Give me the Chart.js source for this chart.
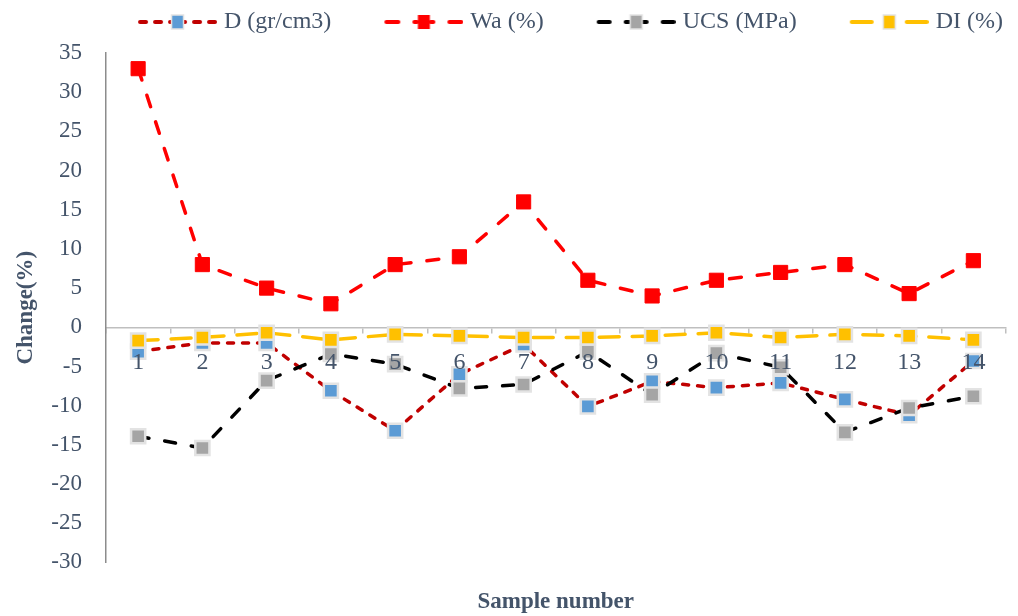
<!DOCTYPE html>
<html>
<head>
<meta charset="utf-8">
<script src="https://cdn.jsdelivr.net/npm/chart.js"></script>
<style>
  html, body { margin: 0; padding: 0; background: #ffffff; }
  #wrap { width: 1018px; height: 616px; }
</style>
</head>
<body>
<div id="wrap"><canvas id="chart" width="1018" height="616"></canvas></div>
<script>
// Sample numbers along the x axis
const samples = ['1', '2', '3', '4', '5', '6', '7', '8', '9', '10', '11', '12', '13', '14'];

// Percentage change of each property per sample
const densityChange = [-3.1, -2.0, -2.0, -8.1, -13.2, -6.0, -2.2, -10.1, -6.9, -7.7, -7.1, -9.2, -11.2, -4.3];
const absorptionChange = [33, 8, 5, 3, 8, 9, 16, 6, 4, 6, 7, 8, 4.3, 8.5];
const ucsChange = [-13.9, -15.4, -6.8, -3.4, -4.7, -7.8, -7.3, -3.1, -8.6, -3.3, -5.1, -13.4, -10.3, -8.8];
const durabilityChange = [-1.7, -1.3, -0.7, -1.6, -0.9, -1.1, -1.3, -1.3, -1.1, -0.7, -1.3, -0.9, -1.1, -1.6];

// Series names
const seriesNames = ['D (gr/cm3)', 'Wa (%)', 'UCS (MPa)', 'DI (%)'];

// Y axis range and step
const yMin = -30;
const yMax = 35;
const yStep = 5;

const TEXT = '#44546A';
const SERIF = "'Liberation Serif', 'Times New Roman', serif";
Chart.defaults.font.family = SERIF;
Chart.defaults.color = TEXT;

// Line + marker swatch used as the legend symbol
const SWATCH_BOX = 117;
function legendSwatch(lineColor, dash, fill, edge) {
  const c = document.createElement('canvas');
  c.width = SWATCH_BOX + 10;
  c.height = 24;
  const g = c.getContext('2d');
  const left = c.width - 77, right = c.width - 2, mid = (left + right) / 2, cy = 12;
  g.strokeStyle = lineColor;
  g.lineWidth = 4;
  g.lineCap = 'round';
  g.setLineDash(dash);
  g.beginPath(); g.moveTo(left, cy); g.lineTo(mid - 7, cy); g.stroke();
  g.beginPath(); g.moveTo(right, cy); g.lineTo(mid + 7, cy); g.stroke();
  g.setLineDash([]);
  g.fillStyle = fill;
  g.fillRect(mid - 6, cy - 7, 12, 14);
  if (edge) { g.strokeStyle = edge; g.lineWidth = 1.5; g.strokeRect(mid - 6, cy - 7, 12, 14); }
  return c;
}

const styles = [
  { line: '#C00000', dash: [6, 9], fill: '#5B9BD5', edge: '#E3E3E3', order: 4 },
  { line: '#FF0000', dash: [12, 16], fill: '#FF0000', edge: '#FF0000', order: 3 },
  { line: '#000000', dash: [11, 16], fill: '#A5A5A5', edge: '#E3E3E3', order: 2 },
  { line: '#FFC000', dash: [20, 13], fill: '#FFC000', edge: '#E3E3E3', order: 1 }
];
const seriesValues = [densityChange, absorptionChange, ucsChange, durabilityChange];

const swatches = styles.map(s => legendSwatch(s.line, s.dash, s.fill, s.edge === '#FF0000' ? null : s.edge));

const datasets = seriesNames.map((name, i) => ({
  label: name,
  data: seriesValues[i],
  borderColor: styles[i].line,
  borderWidth: 3.5,
  borderDash: styles[i].dash,
  borderCapStyle: 'round',
  backgroundColor: styles[i].fill,
  pointStyle: 'rect',
  pointRadius: 10,
  pointHoverRadius: 10,
  pointBackgroundColor: styles[i].fill,
  pointBorderColor: styles[i].edge,
  pointBorderWidth: i === 1 ? 1 : 2.5,
  tension: 0,
  fill: false,
  clip: false,
  order: styles[i].order
}));

new Chart(document.getElementById('chart'), {
  type: 'line',
  data: { labels: samples, datasets },
  options: {
    responsive: false,
    animation: false,
    devicePixelRatio: 1,
    layout: { padding: { top: 0, right: 5, bottom: 0, left: 0 } },
    plugins: {
      tooltip: { enabled: false },
      legend: {
        position: 'top',
        align: 'end',
        weight: 1000,
        labels: {
          usePointStyle: true,
          pointStyleWidth: SWATCH_BOX,
          padding: 10,
          color: TEXT,
          font: { size: 24, family: SERIF },
          generateLabels(chart) {
            const items = Chart.defaults.plugins.legend.labels.generateLabels(chart);
            items.sort((a, b) => a.datasetIndex - b.datasetIndex);
            items.forEach(it => { it.pointStyle = swatches[it.datasetIndex]; it.fontColor = TEXT; });
            return items;
          }
        }
      },
      subtitle: {
        display: true,
        text: '',
        position: 'top',
        weight: 500,
        font: { size: 0 },
        padding: { top: 9, bottom: 0 }
      },
      title: {
        display: true,
        text: 'Sample number',
        position: 'bottom',
        fullSize: false,
        color: TEXT,
        font: { size: 23, weight: 'bold', family: SERIF },
        padding: { top: 26, bottom: 0 }
      }
    },
    scales: {
      x: {
        type: 'category',
        position: { y: 0 },
        offset: true,
        afterFit(scale) { scale.height = 0; },
        grid: {
          display: true,
          offset: true,
          drawOnChartArea: false,
          drawTicks: true,
          tickLength: 5,
          color: '#BFBFBF',
          lineWidth: 1.5
        },
        border: { display: true, color: '#BFBFBF', width: 1.5 },
        ticks: {
          z: 1,
          color: TEXT,
          font: { size: 24, family: SERIF },
          padding: 16,
          maxRotation: 0,
          autoSkip: false
        }
      },
      y: {
        type: 'linear',
        min: yMin,
        max: yMax,
        afterFit(scale) { scale.width = 106; },
        grid: { display: false, drawTicks: false, tickLength: 0 },
        border: { display: true, color: '#8C8C8C', width: 1.5 },
        ticks: {
          stepSize: yStep,
          color: TEXT,
          font: { size: 23, family: SERIF },
          padding: 24
        },
        title: {
          display: true,
          text: 'Change(%)',
          color: TEXT,
          font: { size: 23, weight: 'bold', family: SERIF },
          padding: { top: 12, bottom: 0 }
        }
      }
    }
  }
});
</script>
</body>
</html>
